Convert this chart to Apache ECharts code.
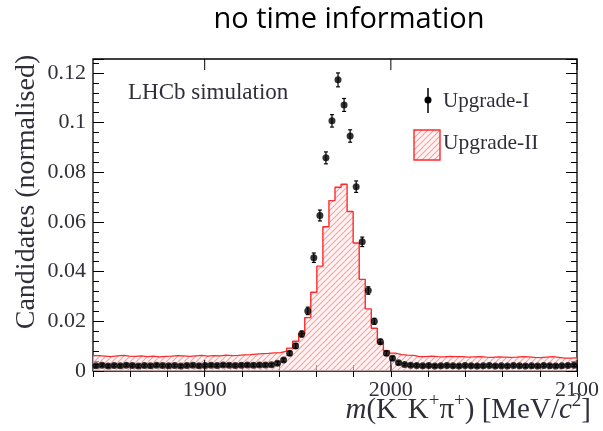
<!DOCTYPE html>
<html><head><meta charset="utf-8">
<script src="https://cdn.jsdelivr.net/npm/echarts@6/dist/echarts.min.js"></script>
<style>html,body{margin:0;padding:0;background:#fff}#c{width:603px;height:431px}</style>
</head><body><div id="c"></div>
<script>
// ---- data ----
const xMin = 1840, xMax = 2100, nBins = 80;
const yMax = 0.1256;
const xTickLabels = [1900, 2000, 2100];
const yTickLabels = ['0', '0.02', '0.04', '0.06', '0.08', '0.1', '0.12'];

// Upgrade-I (points), one value per bin
const upgrade1 = [
  0.0021,0.0023,0.0020,0.0022,0.0021,0.0023,0.0022,0.0020,0.0022,0.0021,
  0.0023,0.0022,0.0021,0.0022,0.0020,0.0022,0.0023,0.0021,0.0022,0.0023,
  0.0022,0.0024,0.0023,0.0022,0.0023,0.0024,0.0023,0.0024,
  0.0024,0.0025,0.0031,0.0044,0.0071,0.0101,0.0149,0.0242,0.0456,0.0626,
  0.0858,0.1007,0.1172,0.1071,0.0946,0.0742,0.0520,0.0324,0.0200,0.0118,
  0.0071,0.0051,0.0033,0.0026,
  0.0023,0.0022,0.0021,0.0022,0.0020,0.0021,0.0022,0.0021,0.0020,0.0022,
  0.0021,0.0020,0.0021,0.0022,0.0020,0.0021,0.0020,0.0022,0.0021,0.0020,
  0.0021,0.0020,0.0022,0.0021,0.0020,0.0021,0.0022,0.0023
];
const upgrade1Err = [
  0.0005,0.0005,0.0005,0.0005,0.0005,0.0005,0.0005,0.0005,0.0005,0.0005,
  0.0005,0.0005,0.0005,0.0005,0.0005,0.0005,0.0005,0.0005,0.0005,0.0005,
  0.0005,0.0005,0.0005,0.0005,0.0005,0.0005,0.0005,0.0005,
  0.0005,0.0005,0.0006,0.0007,0.0008,0.0010,0.0012,0.0015,0.0019,0.0022,
  0.0024,0.0025,0.0028,0.0026,0.0025,0.0023,0.0019,0.0015,0.0012,0.0010,
  0.0008,0.0007,0.0006,0.0005,
  0.0005,0.0005,0.0005,0.0005,0.0005,0.0005,0.0005,0.0005,0.0005,0.0005,
  0.0005,0.0005,0.0005,0.0005,0.0005,0.0005,0.0005,0.0005,0.0005,0.0005,
  0.0005,0.0005,0.0005,0.0005,0.0005,0.0005,0.0005,0.0005
];
// Upgrade-II (hatched histogram), one value per bin
const upgrade2 = [
  0.0062,0.0060,0.0058,0.0061,0.0063,0.0060,0.0059,0.0061,0.0058,0.0060,
  0.0057,0.0059,0.0060,0.0062,0.0061,0.0059,0.0061,0.0063,0.0060,0.0062,
  0.0061,0.0064,0.0062,0.0063,0.0065,0.0066,
  0.0068,0.0070,0.0071,0.0073,0.0074,0.0080,
  0.0092,0.0120,0.0150,0.0215,0.0317,0.0422,0.0581,0.0686,0.0740,0.0752,
  0.0642,0.0515,0.0369,0.0250,0.0172,0.0115,0.0082,0.0072,0.0066,
  0.0064,0.0063,0.0058,0.0058,0.0060,0.0058,0.0057,0.0059,0.0058,0.0058,
  0.0056,0.0057,0.0058,0.0056,0.0055,0.0057,0.0056,0.0055,0.0056,0.0058,
  0.0057,0.0055,0.0054,0.0056,0.0058,0.0055,0.0052,0.0052,0.0053
];

// ---- build ----
const binWidth = (xMax - xMin) / nBins;
const edges = [];
for (let i = 0; i < nBins; i++) edges.push(xMin + i * binWidth);
const histData = upgrade2.map((v, i) => [edges[i], v]);
histData.push([xMax, upgrade2[nBins - 1]]);
const ptsData = upgrade1.map((v, i) => [edges[i] + binWidth / 2, v]);
const errData = upgrade1.map((v, i) => [edges[i] + binWidth / 2, v, upgrade1Err[i]]);

function hatchCanvas() {
  const s = 6;
  const c = document.createElement('canvas');
  c.width = s; c.height = s;
  const g = c.getContext('2d');
  g.fillStyle = 'rgba(255,238,238,0.6)';
  g.fillRect(0, 0, s, s);
  g.strokeStyle = 'rgba(255,120,120,0.7)';
  g.lineWidth = 1.1;
  g.beginPath();
  g.moveTo(0, s); g.lineTo(s, 0);
  g.moveTo(-s / 2, s / 2); g.lineTo(s / 2, -s / 2);
  g.moveTo(s / 2, s * 1.5); g.lineTo(s * 1.5, s / 2);
  g.stroke();
  return c;
}
const hatch = hatchCanvas();

const serif = '"Liberation Serif", "Times New Roman", serif';
const txtColor = '#2f2f3a';

const chart = echarts.init(document.getElementById('c'));
chart.setOption({
  animation: false,
  backgroundColor: '#fff',
  grid: { left: 93, top: 59, width: 484, height: 312, show: true, borderColor: '#000', borderWidth: 1.3, backgroundColor: 'transparent' },
  xAxis: [
    { type: 'value', min: xMin, max: xMax, interval: 20, position: 'bottom',
      axisLine: { show: false }, splitLine: { show: false },
      axisTick: { inside: true, length: 6, lineStyle: { color: '#000', width: 1 } },
      axisLabel: { formatter: v => xTickLabels.includes(Math.round(v)) ? String(Math.round(v)) : '',
        fontFamily: serif, fontSize: 22, color: txtColor, margin: 8 } },
    { type: 'value', min: xMin, max: xMax, interval: 20, position: 'top',
      axisLine: { show: false }, splitLine: { show: false },
      axisTick: { inside: true, length: 6, lineStyle: { color: '#000', width: 1 } },
      axisLabel: { show: false } }
  ],
  yAxis: [
    { type: 'value', min: 0, max: yMax, interval: 0.02, position: 'left',
      axisLine: { show: false }, splitLine: { show: false },
      axisTick: { inside: true, length: 11, lineStyle: { color: '#000', width: 1 } },
      minorTick: { show: true, splitNumber: 5, length: 6, lineStyle: { color: '#000', width: 1 } },
      minorSplitLine: { show: false },
      axisLabel: { showMaxLabel: false,
        formatter: v => { const k = Math.round(v / 0.02); return Math.abs(v - k * 0.02) < 1e-6 && yTickLabels[k] !== undefined ? yTickLabels[k] : ''; },
        fontFamily: serif, fontSize: 22, color: txtColor, margin: 7 } },
    { type: 'value', min: 0, max: yMax, interval: 0.02, position: 'right',
      axisLine: { show: false }, splitLine: { show: false },
      axisTick: { inside: true, length: 11, lineStyle: { color: '#000', width: 1 } },
      minorTick: { show: true, splitNumber: 5, length: 6, lineStyle: { color: '#000', width: 1 } },
      axisLabel: { show: false } }
  ],
  series: [
    { name: 'Upgrade-II', type: 'line', step: 'end', data: histData, symbol: 'none', z: 2,
      lineStyle: { color: '#ff2a2a', width: 1.4 },
      areaStyle: { color: { image: hatch, repeat: 'repeat' }, opacity: 1 } },
    { name: 'err', type: 'custom', data: errData, z: 3,
      renderItem: function (params, api) {
        const x = api.value(0), y = api.value(1), e = api.value(2);
        const hi = api.coord([x, y + e]), lo = api.coord([x, y - e]);
        const st = { stroke: '#000', lineWidth: 1.2 };
        return { type: 'group', children: [
          { type: 'line', shape: { x1: hi[0], y1: hi[1], x2: lo[0], y2: lo[1] }, style: st },
          { type: 'line', shape: { x1: hi[0] - 2, y1: hi[1], x2: hi[0] + 2, y2: hi[1] }, style: st },
          { type: 'line', shape: { x1: lo[0] - 2, y1: lo[1], x2: lo[0] + 2, y2: lo[1] }, style: st }
        ] };
      } },
    { name: 'Upgrade-I', type: 'scatter', data: ptsData, symbol: 'circle', symbolSize: 7, z: 4,
      itemStyle: { color: '#000' } },
    { name: 'majorTicks', type: 'custom', data: xTickLabels.map(v => [v, 0]), z: 5,
      renderItem: function (params, api) {
        const p = api.coord([api.value(0), 0]);
        const cs = params.coordSys;
        const st = { stroke: '#000', lineWidth: 1 };
        return { type: 'group', children: [
          { type: 'line', shape: { x1: p[0], y1: cs.y + cs.height, x2: p[0], y2: cs.y + cs.height - 11 }, style: st },
          { type: 'line', shape: { x1: p[0], y1: cs.y, x2: p[0], y2: cs.y + 11 }, style: st }
        ] };
      } }
  ],
  graphic: [
    { type: 'text', x: 349, y: 20, style: { text: 'no time information', font: '29px "Open Sans", sans-serif', fill: '#000', align: 'center', verticalAlign: 'middle' } },
    { type: 'text', x: 27, y: 192, rotation: Math.PI / 2, style: { text: 'Candidates (normalised)', font: '28px ' + serif, fill: txtColor, align: 'center', verticalAlign: 'middle' } },
    { type: 'text', x: 591, y: 410, style: {
        text: '{i|m}{n|(K}{s|−}{n|K}{s|+}{n|π}{s|+}{n|) [MeV/}{i|c}{s|2}{n|]}',
        font: '29px ' + serif, fill: txtColor, align: 'right', verticalAlign: 'middle',
        rich: {
          n: { fontFamily: serif, fontSize: 29, lineHeight: 36, fill: txtColor },
          i: { fontStyle: 'italic', fontFamily: serif, fontSize: 29, lineHeight: 36, fill: txtColor },
          s: { fontFamily: serif, fontSize: 19, lineHeight: 22, verticalAlign: 'top', fill: txtColor }
        } } },
    { type: 'text', x: 128, y: 93, style: { text: 'LHCb simulation', font: '23px ' + serif, fill: txtColor, align: 'left', verticalAlign: 'middle' } },
    { type: 'line', shape: { x1: 428, y1: 88, x2: 428, y2: 113 }, style: { stroke: '#000', lineWidth: 1.5 } },
    { type: 'circle', shape: { cx: 428, cy: 100, r: 3.5 }, style: { fill: '#000' } },
    { type: 'text', x: 443, y: 101, style: { text: 'Upgrade-I', font: '21px ' + serif, fill: txtColor, align: 'left', verticalAlign: 'middle' } },
    { type: 'rect', shape: { x: 414, y: 130, width: 26, height: 30 }, style: { fill: { image: hatch, repeat: 'repeat' }, stroke: '#ff2a2a', lineWidth: 1.4 } },
    { type: 'text', x: 443, y: 143, style: { text: 'Upgrade-II', font: '21.5px ' + serif, fill: txtColor, align: 'left', verticalAlign: 'middle' } }
  ]
});
</script>
</body></html>
